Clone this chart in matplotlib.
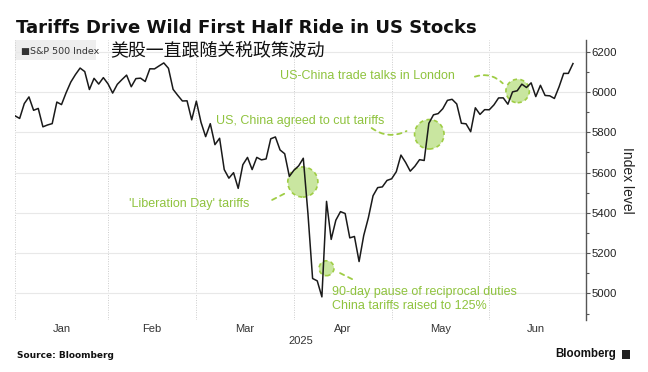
import numpy as np
import matplotlib.pyplot as plt
from matplotlib.patches import Rectangle

# S&P 500 closes (trading days, Dec 31 2024 -> Jun 26 2025)
dec = [5881.6]
jan = [5868.6, 5942.5, 5975.4, 5909.0, 5918.3, 5827.0, 5836.2, 5842.9, 5949.9, 5937.3,
       5996.7, 6049.2, 6086.4, 6118.7, 6101.2, 6012.3, 6067.7, 6039.3, 6071.2, 6040.5]
feb = [5994.6, 6037.9, 6061.5, 6083.6, 6026.0, 6066.4, 6068.5, 6052.0, 6115.1, 6114.6,
       6129.6, 6144.2, 6117.5, 6013.1, 5983.3, 5955.3, 5956.1, 5861.6, 5954.5]
mar = [5849.7, 5778.2, 5842.6, 5738.5, 5770.2, 5614.6, 5572.1, 5599.3, 5521.5, 5638.9,
       5675.1, 5614.7, 5675.3, 5662.9, 5667.6, 5767.6, 5776.7, 5712.2, 5693.3, 5580.9, 5611.9]
apr = [5633.1, 5671.0, 5396.5, 5074.1, 5062.3, 4982.8, 5456.9, 5268.1, 5363.4, 5406.0,
       5396.6, 5275.7, 5282.7, 5158.2, 5287.8, 5375.9, 5484.8, 5525.2, 5528.8, 5560.8, 5569.1]
may = [5604.1, 5686.7, 5650.4, 5606.9, 5631.3, 5663.9, 5659.9, 5844.2, 5886.6, 5892.6,
       5916.9, 5958.4, 5963.6, 5940.5, 5844.6, 5842.0, 5802.8, 5921.5, 5888.6, 5912.2, 5911.7]
jun = [5935.9, 5970.4, 5970.8, 5939.3, 6000.4, 6005.9, 6038.8, 6022.2, 6045.3, 5977.0,
       6033.1, 5982.7, 5980.9, 5967.8, 6025.2, 6092.2, 6092.2, 6141.0]
jun_days = 20  # trading days in June (incl. the ones after the last close)

months = ['Jan', 'Feb', 'Mar', 'Apr', 'May', 'Jun']

# events: trading-day index and level of the highlight circles
event_x = [61.9, 67.0, 89.1, 108.1]
event_y = [5553, 5125, 5790, 6005]
event_size = [470, 115, 450, 285]
event_text = ["'Liberation Day' tariffs",
              "90-day pause of reciprocal duties\nChina tariffs raised to 125%",
              "US, China agreed to cut tariffs",
              "US-China trade talks in London"]

closes = np.array(dec + jan + feb + mar + apr + may + jun)
idx = np.arange(len(closes))
counts = [len(jan), len(feb), len(mar), len(apr), len(may), jun_days]
bounds = np.concatenate([[0], np.cumsum(counts)])
centers = (bounds[:-1] + bounds[1:]) / 2

green = '#8fc33e'
fill = '#c9e6a0'
sans = 'Liberation Sans'

fig = plt.figure(figsize=(6.48, 3.72), dpi=100)
ax = fig.add_axes([15 / 648, 52 / 372, 571 / 648, 280 / 372])

ax.plot(idx, closes, color='#1a1a1a', lw=1.1, zorder=3)

ax.scatter(event_x, event_y, s=event_size, facecolor=fill, edgecolor='#9fcd45',
           linewidths=1.2, linestyle=(0, (2.5, 2)), zorder=2)

ax.set_xlim(0, 122.8)
ax.set_ylim(4868, 6258)

# month boundaries as dotted gridlines, labels in the middle
ax.set_xticks(bounds[:-1])
ax.set_xticklabels([])
ax.set_xticks(centers, minor=True)
ax.set_xticklabels(months, minor=True, fontsize=8, family=sans, color='#333333')
ax.tick_params(axis='x', which='both', length=0, pad=3)
ax.grid(axis='x', which='major', color='#cccccc', lw=0.7, ls=(0, (1, 1.5)))

ax.yaxis.tick_right()
ax.set_yticks(np.arange(5000, 6201, 200))
ax.set_yticks(np.arange(4900, 6201, 100), minor=True)
ax.tick_params(axis='y', which='major', length=3, width=0.8, color='#555555', pad=1,
               labelsize=8.2, labelcolor='#222222')
ax.tick_params(axis='y', which='minor', length=2, width=0.8, color='#555555')
for lab in ax.get_yticklabels():
    lab.set_family(sans)
ax.grid(axis='y', which='major', color='#e8e8e8', lw=0.8)
ax.yaxis.set_label_position('right')
ax.set_ylabel('Index level', rotation=270, fontsize=10, family=sans, labelpad=12,
              color='#222222')

for s in ['left', 'top', 'bottom']:
    ax.spines[s].set_visible(False)
ax.spines['right'].set_color('#555555')
ax.spines['right'].set_linewidth(1)

ax.text(0.5, -0.075, '2025', transform=ax.transAxes, ha='center', va='center',
        fontsize=8, family=sans, color='#333333')

# annotations
text_pos = [(37.4, 5444, 'center'), (68.1, 4973, 'left'), (61.4, 5858, 'center'),
            (75.7, 6081, 'center')]
for (tx, ty, ha), t in zip(text_pos, event_text):
    ax.text(tx, ty, t, ha=ha, va='center', fontsize=9, family=sans, color=green,
            linespacing=1.25, zorder=4)

leaders = [((55.3, 5464), (58.7, 5504), 0.0),
           ((69.9, 5101), (72.5, 5071), 0.0),
           ((76.7, 5821), (84.2, 5806), 0.3),
           ((98.9, 6076), (104.9, 6043), -0.3)]
for start, end, rad in leaders:
    ax.annotate('', xy=end, xytext=start,
                arrowprops=dict(arrowstyle='-', color='#9fcd45', lw=1.3,
                                ls=(0, (2.5, 2.5)), shrinkA=0, shrinkB=0,
                                connectionstyle=f'arc3,rad={rad}'))

# legend chip
ax.add_patch(Rectangle((0, 0.9286), 81 / 571, 0.0714, transform=ax.transAxes,
                       facecolor='#eeeeee', edgecolor='none', zorder=1, clip_on=False))
ax.text(0.01, 0.958, '\u25a0S&P 500 Index', transform=ax.transAxes, ha='left',
        va='center', fontsize=6.8, family=['DejaVu Sans'], color='#333333', zorder=4)

fig.text(16 / 648, 1 - 32.7 / 372, 'Tariffs Drive Wild First Half Ride in US Stocks',
         fontsize=13.1, fontweight='bold', family='DejaVu Sans', va='baseline',
         color='#111111')
fig.text(110 / 648, 1 - 51 / 372, '美股一直跟随关税政策波动', fontsize=12.9,
         family=['Noto Sans CJK SC', 'DejaVu Sans'], va='center', color='#111111')

fig.text(17 / 648, 1 - 355 / 372, 'Source: Bloomberg', fontsize=6.5, fontweight='bold',
         family='DejaVu Sans', va='center', color='#111111')
fig.text(616 / 648, 1 - 354 / 372, 'Bloomberg', fontsize=8.3, fontweight='bold',
         family=sans, ha='right', va='center', color='#111111')
fig.patches.append(Rectangle((622 / 648, 1 - 358.5 / 372), 8 / 648, 9 / 372,
                             transform=fig.transFigure, facecolor='#222222',
                             edgecolor='none'))

fig.savefig('out.png', dpi=100)
